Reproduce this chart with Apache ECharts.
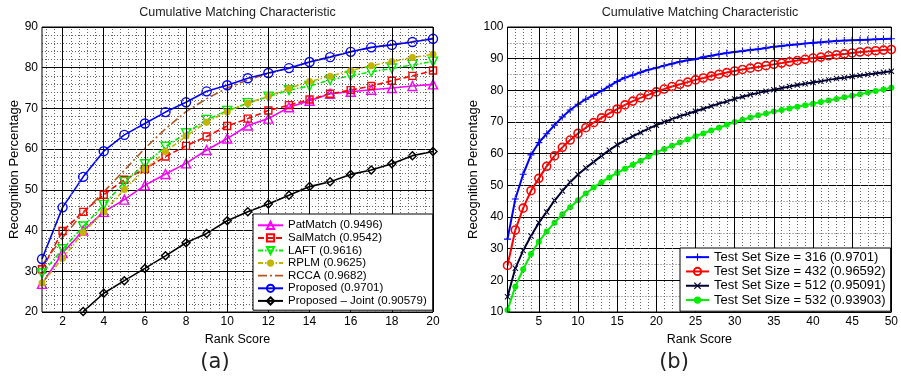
<!DOCTYPE html>
<html>
<head>
<meta charset="utf-8">
<script src="https://cdn.jsdelivr.net/npm/echarts@6/dist/echarts.min.js"></script>
<style>
html,body{margin:0;padding:0;background:#fff;}
#c{width:901px;height:377px;}
</style>
</head>
<body>
<div id="c"></div>
<script>
// ---------- data: chart (a) ----------
const rankA = [1,2,3,4,5,6,7,8,9,10,11,12,13,14,15,16,17,18,19,20];
const patMatch = [26.9,34.5,40.0,44.6,47.6,51.1,53.9,56.5,59.8,62.6,65.8,67.5,70.3,71.9,73.6,74.1,74.6,75.0,75.5,75.9];
const salMatch = [30.5,39.9,44.6,48.8,52.5,55.1,58.2,60.8,63.1,65.7,67.5,69.5,70.8,72.2,73.6,74.5,75.5,76.8,78.0,79.3];
const laft     = [29.5,35.4,41.0,46.3,51.9,56.3,60.6,63.9,67.2,69.4,71.3,72.9,74.5,75.5,77.0,78.0,79.0,79.8,80.7,81.5];
const rplm     = [27.1,33.2,39.5,44.6,50.1,55.0,59.4,63.2,66.6,69.2,71.3,73.0,74.9,76.6,77.9,79.3,80.5,81.5,82.5,83.3];
const rcca     = [31.5,38.3,44.3,49.5,54.8,60.2,65.0,69.2,72.4,75.0,77.0,78.6,79.9,81.4,82.7,83.9,85.0,85.7,86.4,87.2];
const proposed = [33.0,45.7,53.2,59.5,63.5,66.3,69.1,71.5,74.2,75.7,77.4,78.7,79.9,81.4,82.6,83.9,85.0,85.6,86.3,87.1];
const joint    = [null,null,20.1,24.6,27.7,30.7,33.8,37.0,39.3,42.4,44.6,46.5,48.7,50.8,52.0,53.8,54.9,56.4,58.4,59.4];
const namesA = ['PatMatch (0.9496)','SalMatch (0.9542)','LAFT (0.9616)','RPLM (0.9625)','RCCA (0.9682)','Proposed (0.9701)','Proposed \u2013 Joint (0.90579)'];
const xTicksA = [2,4,6,8,10,12,14,16,18,20];
const yTicksA = [20,30,40,50,60,70,80,90];

// ---------- data: chart (b) ----------
const rankB = [1,2,3,4,5,6,7,8,9,10,11,12,13,14,15,16,17,18,19,20,21,22,23,24,25,26,27,28,29,30,31,32,33,34,35,36,37,38,39,40,41,42,43,44,45,46,47,48,49,50];
const size316 = [33.0,45.7,53.5,59.6,63.5,66.3,69.0,71.6,73.8,75.6,77.2,78.5,79.8,81.3,82.8,84.0,84.8,85.7,86.5,87.1,87.8,88.4,89.0,89.5,89.8,90.5,90.9,91.4,91.8,92.1,92.4,92.7,93.0,93.4,93.8,94.0,94.3,94.5,94.8,95.0,95.2,95.4,95.6,95.7,95.8,95.9,96.0,96.1,96.2,96.3];
const size432 = [24.7,35.9,42.8,48.3,52.2,56.0,59.3,62.0,64.3,66.4,68.2,69.8,71.3,72.7,74.1,75.4,76.6,77.6,78.6,79.5,80.4,81.2,81.9,82.6,83.3,83.9,84.5,85.1,85.6,86.1,86.6,87.0,87.4,87.8,88.2,88.6,89.0,89.4,89.8,90.2,90.5,90.9,91.2,91.5,91.8,92.1,92.3,92.5,92.7,92.9];
const size512 = [14.8,23.8,29.4,34.0,38.2,41.6,45.2,48.2,51.0,53.4,55.5,57.4,59.3,61.1,62.8,64.2,65.5,66.7,67.9,69.0,70.0,70.9,71.8,72.6,73.4,74.2,75.0,75.8,76.5,77.3,78.0,78.6,79.2,79.7,80.2,80.7,81.2,81.7,82.1,82.5,82.9,83.3,83.7,84.0,84.4,84.7,85.0,85.3,85.7,86.0];
const size532 = [10.6,18.0,23.5,28.3,32.2,35.4,38.2,40.9,43.1,45.3,47.4,49.3,51.0,52.5,53.9,55.2,56.5,57.8,59.1,60.4,61.5,62.5,63.5,64.5,65.5,66.4,67.3,68.2,69.1,70.0,70.7,71.4,72.1,72.7,73.3,73.8,74.3,74.8,75.3,75.8,76.3,76.8,77.3,77.8,78.3,78.8,79.3,79.8,80.3,80.8];
const namesB = ['Test Set Size = 316 (0.9701)','Test Set Size = 432 (0.96592)','Test Set Size = 512 (0.95091)','Test Set Size = 532 (0.93903)'];
const xTicksB = [5,10,15,20,25,30,35,40,45,50];
const yTicksB = [10,20,30,40,50,60,70,80,90,100];

const titleText = 'Cumulative Matching Characteristic';
const xName = 'Rank Score';
const yName = 'Recognition Percentage';

// ---------- helpers ----------
const FONT = '"Liberation Sans", Arial, Helvetica, sans-serif';
const pairs = (xs, ys) => xs.map((x, i) => [x, ys[i] == null ? '-' : ys[i]]);

// minor vertical grid positions derived from the major tick arrays
function minorBetween(majors, lo, hi, step) {
  const out = [];
  const n = Math.round((hi - lo) / step);
  for (let i = 1; i < n; i++) {
    const v = +(lo + i * step).toFixed(4);
    if (!majors.some(m => Math.abs(m - v) < 1e-6)) out.push(v);
  }
  return out;
}
const minorA = minorBetween(xTicksA, 0, 20, 0.4).filter(v => v > 1);
const minorB = minorBetween(xTicksB, 0, 50, 1).filter(v => v > 1);

function gridSeries(xi, yi, majors, minors) {
  const base = { symbol: ['none','none'], silent: true, animation: false, label: { show: false }, emphasis: { disabled: true } };
  return [
    { type: 'line', xAxisIndex: xi, yAxisIndex: yi, data: [], z: 1, silent: true,
      markLine: Object.assign({}, base, { lineStyle: { color: '#000', width: 1, type: 'solid' },
        data: majors.map(v => ({ xAxis: v })) }) },
    { type: 'line', xAxisIndex: xi, yAxisIndex: yi, data: [], z: 0, silent: true,
      markLine: Object.assign({}, base, { lineStyle: { color: '#666', width: 1, type: [1, 2] },
        data: minors.map(v => ({ xAxis: v })) }) }
  ];
}

const openStyle = (c, w) => ({ color: 'rgba(255,255,255,0)', borderColor: c, borderWidth: w || 1.4 });

const PLUS = 'path://M4.2,0H5.8V4.2H10V5.8H5.8V10H4.2V5.8H0V4.2H4.2Z';
const CROSS = 'path://M1.2,0L5,3.8L8.8,0L10,1.2L6.2,5L10,8.8L8.8,10L5,6.2L1.2,10L0,8.8L3.8,5L0,1.2Z';
const DASHDOT_ICON = 'path://M0,0H9V1.8H0Z M12,0H14V1.8H12Z M17,0H25V1.8H17Z';
const RCCA_COLOR = '#b5541f';

const seriesA = [
  { name: namesA[0], d: patMatch, c: '#ff00ff', dash: 'solid', sym: 'triangle', size: 9, open: true },
  { name: namesA[1], d: salMatch, c: '#ff0000', dash: [6, 3], sym: 'rect', size: 7, open: true },
  { name: namesA[2], d: laft, c: '#00ee00', dash: [5, 2, 1.5, 2], sym: 'triangle', size: 9, open: true, rot: 180 },
  { name: namesA[3], d: rplm, c: '#c4b400', dash: [5, 2, 1.5, 2], sym: 'circle', size: 7, open: false },
  { name: namesA[4], d: rcca, c: RCCA_COLOR, dash: [8, 3, 2, 3], sym: 'none', size: 0, open: false },
  { name: namesA[5], d: proposed, c: '#0000ff', dash: 'solid', sym: 'circle', size: 9, open: true },
  { name: namesA[6], d: joint, c: '#000000', dash: 'solid', sym: 'diamond', size: 8, open: true }
].map(s => ({
  type: 'line', name: s.name, xAxisIndex: 0, yAxisIndex: 0, z: 3,
  data: pairs(rankA, s.d), connectNulls: false,
  symbol: s.sym, symbolSize: s.size, symbolRotate: s.rot || 0, showAllSymbol: true,
  lineStyle: { color: s.c, width: 1.6, type: s.dash },
  itemStyle: s.open ? openStyle(s.c, 1.4) : { color: s.c, borderColor: s.c, borderWidth: 0 },
  emphasis: { disabled: true }, animation: false
}));

const seriesB = [
  { name: namesB[0], d: size316, c: '#0000ff', sym: PLUS, size: 7, open: false },
  { name: namesB[1], d: size432, c: '#ff0000', sym: 'circle', size: 8, open: true },
  { name: namesB[2], d: size512, c: '#000033', sym: CROSS, size: 6, open: false },
  { name: namesB[3], d: size532, c: '#00ee00', sym: 'circle', size: 6, open: false }
].map(s => ({
  type: 'line', name: s.name, xAxisIndex: 1, yAxisIndex: 1, z: 3,
  data: pairs(rankB, s.d),
  symbol: s.sym, symbolSize: s.size, showAllSymbol: true,
  lineStyle: { color: s.c, width: 2, type: 'solid' },
  itemStyle: s.open ? openStyle(s.c, 1.6) : { color: s.c, borderColor: s.c, borderWidth: 0 },
  emphasis: { disabled: true }, animation: false
}));

function xAxis(gi, min, max, ticks) {
  return {
    type: 'value', gridIndex: gi, min: min, max: max, interval: 1,
    name: xName, nameLocation: 'middle', nameGap: 12,
    nameTextStyle: { fontFamily: FONT, fontSize: 12.5, color: '#000' },
    axisLine: { show: false }, axisTick: { show: false },
    splitLine: { show: false },
    axisLabel: { fontFamily: FONT, fontSize: 12, color: '#000', margin: 4,
      formatter: v => (ticks.indexOf(Math.round(v)) >= 0 && Math.abs(v - Math.round(v)) < 1e-6) ? String(Math.round(v)) : '' }
  };
}
function yAxis(gi, min, max, minorSplit, gap) {
  return {
    type: 'value', gridIndex: gi, min: min, max: max, interval: 10,
    name: yName, nameLocation: 'middle', nameGap: gap,
    nameTextStyle: { fontFamily: FONT, fontSize: 13, color: '#000' },
    axisLine: { show: false }, axisTick: { show: false },
    axisLabel: { fontFamily: FONT, fontSize: 12, color: '#000', margin: 4 },
    splitLine: { show: true, lineStyle: { color: '#000', width: 1 } },
    minorTick: { show: false, splitNumber: minorSplit },
    minorSplitLine: { show: true, lineStyle: { color: '#666', width: 1, type: [1, 2] } }
  };
}

const legendDataA = namesA.map((n, i) => i === 4
  ? { name: n, icon: DASHDOT_ICON, itemStyle: { color: RCCA_COLOR, borderWidth: 0 } }
  : { name: n });

const option = {
  backgroundColor: '#fff',
  animation: false,
  textStyle: { fontFamily: FONT },
  grid: [
    { left: 42, right: 901 - 433, top: 27, bottom: 377 - 312, show: true, borderColor: '#000', borderWidth: 1, backgroundColor: 'rgba(0,0,0,0)', z: 4 },
    { left: 507.5, right: 901 - 893, top: 27, bottom: 377 - 312, show: true, borderColor: '#000', borderWidth: 1, backgroundColor: 'rgba(0,0,0,0)', z: 4 }
  ],
  xAxis: [ xAxis(0, 1, 20, xTicksA), xAxis(1, 1, 50, xTicksB) ],
  yAxis: [ yAxis(0, yTicksA[0], yTicksA[yTicksA.length - 1], 5, 21), yAxis(1, yTicksB[0], yTicksB[yTicksB.length - 1], 2, 28) ],
  legend: [
    { data: legendDataA, orient: 'vertical', left: 253, top: 214, padding: [5, 6, 3, 4],
      itemWidth: 25, itemHeight: 9, itemGap: 0,
      backgroundColor: '#fff', borderColor: '#000', borderWidth: 1, borderRadius: 0,
      textStyle: { fontFamily: FONT, fontSize: 11.5, color: '#000', lineHeight: 12.6 },
      selectedMode: false, z: 10 },
    { data: namesB, orient: 'vertical', left: 680, top: 248, padding: [2, 5, 4, 5],
      itemWidth: 23, itemHeight: 9, itemGap: 0,
      backgroundColor: '#fff', borderColor: '#000', borderWidth: 1, borderRadius: 0,
      textStyle: { fontFamily: FONT, fontSize: 13, color: '#000', lineHeight: 14.3 },
      selectedMode: false, z: 10 }
  ],
  graphic: [
    { type: 'text', x: 237.5, y: 13, style: { text: titleText, font: '12.5px ' + FONT, fill: '#222', align: 'center', verticalAlign: 'middle' } },
    { type: 'text', x: 700, y: 13, style: { text: titleText, font: '12.5px ' + FONT, fill: '#222', align: 'center', verticalAlign: 'middle' } },
    { type: 'text', x: 215, y: 363, style: { text: '(a)', font: '21px "DejaVu Sans", sans-serif', fill: '#222', align: 'center', verticalAlign: 'middle' } },
    { type: 'text', x: 674, y: 363, style: { text: '(b)', font: '21px "DejaVu Sans", sans-serif', fill: '#222', align: 'center', verticalAlign: 'middle' } }
  ],
  series: [].concat(gridSeries(0, 0, xTicksA, minorA), gridSeries(1, 1, xTicksB, minorB), seriesA, seriesB)
};

const chart = echarts.init(document.getElementById('c'), null, { renderer: 'canvas' });
chart.setOption(option);
</script>
</body>
</html>
